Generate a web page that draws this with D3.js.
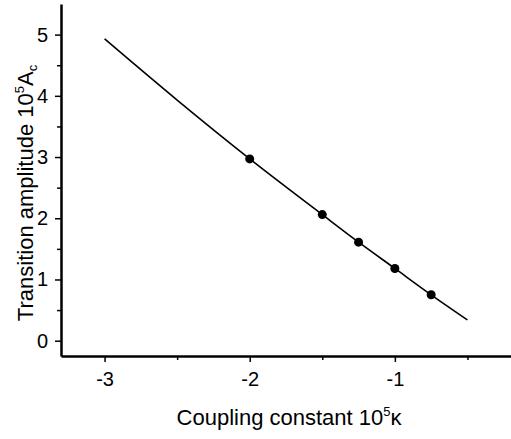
<!DOCTYPE html>
<html>
<head>
<meta charset="utf-8">
<script src="https://cdn.jsdelivr.net/npm/d3@7"></script>
<style>
  body { margin: 0; background: #fff; }
  text { font-family: "Liberation Sans", Arial, sans-serif; fill: #000; }
</style>
</head>
<body>
<svg id="chart" width="511" height="439"></svg>
<script>
// measured points
const kappa = [-2, -1.5, -1.25, -1, -0.75];
const amplitude = [2.97, 2.06, 1.61, 1.18, 0.75];

// fitted curve
const fitKappa = [-3, -2.5, -2, -1.5, -1.25, -1, -0.75, -0.5];
const fitAmplitude = [4.93, 3.93, 2.97, 2.06, 1.61, 1.18, 0.75, 0.34];

const xTicks = [-3, -2, -1];
const xMinor = [-2.5, -1.5, -0.5];
const yTicks = [0, 1, 2, 3, 4, 5];
const yMinor = [0.5, 1.5, 2.5, 3.5, 4.5];

const svg = d3.select("#chart");
const margin = { left: 61, right: 0, top: 4, bottom: 83 };
const width = 511 - margin.left - margin.right;
const height = 439 - margin.top - margin.bottom;

const x = d3.scaleLinear().domain([-3.3, -0.2]).range([0, width]);
const y = d3.scaleLinear().domain([-0.25, 5.5]).range([height, 0]);

const g = svg.append("g").attr("transform", `translate(${margin.left},${margin.top})`);

// minor ticks
g.append("g")
  .attr("transform", `translate(0,${height})`)
  .call(d3.axisBottom(x).tickValues(xMinor).tickSize(4).tickFormat(""))
  .call(a => a.select(".domain").remove())
  .selectAll("line").attr("stroke-width", 1.5);

g.append("g")
  .call(d3.axisLeft(y).tickValues(yMinor).tickSize(4).tickFormat(""))
  .call(a => a.select(".domain").remove())
  .selectAll("line").attr("stroke-width", 1.5);

// major axes
const xAxis = g.append("g")
  .attr("transform", `translate(0,${height})`)
  .call(d3.axisBottom(x).tickValues(xTicks).tickSize(6).tickSizeOuter(0).tickPadding(10)
    .tickFormat(d => String(d)));
xAxis.select(".domain").attr("stroke-width", 2.5);
xAxis.selectAll("line").attr("stroke-width", 1.5);
xAxis.selectAll("text").style("font-size", "20px");

const yAxis = g.append("g")
  .call(d3.axisLeft(y).tickValues(yTicks).tickSize(6).tickSizeOuter(0).tickPadding(7)
    .tickFormat(d => String(d)));
yAxis.select(".domain").attr("stroke-width", 2.5);
yAxis.selectAll("line").attr("stroke-width", 1.5);
yAxis.selectAll("text").style("font-size", "20px");

// fitted curve
const line = d3.line()
  .x((d, i) => x(fitKappa[i]))
  .y(d => y(d))
  .curve(d3.curveMonotoneX);

g.append("path")
  .datum(fitAmplitude)
  .attr("fill", "none")
  .attr("stroke", "#000")
  .attr("stroke-width", 1.6)
  .attr("d", line);

// data points
g.selectAll("circle.pt")
  .data(amplitude)
  .enter()
  .append("circle")
  .attr("class", "pt")
  .attr("cx", (d, i) => x(kappa[i]))
  .attr("cy", d => y(d))
  .attr("r", 4.5)
  .attr("fill", "#000");

// axis titles
const xt = svg.append("text")
  .attr("x", 289)
  .attr("y", 425)
  .attr("text-anchor", "middle")
  .style("font-size", "22px");
xt.append("tspan").text("Coupling constant 10");
xt.append("tspan").attr("dy", -9).style("font-size", "13px").text("5");
xt.append("tspan").attr("dy", 9).text("κ");

const yt = svg.append("text")
  .attr("transform", "translate(33,193) rotate(-90)")
  .attr("text-anchor", "middle")
  .style("font-size", "22px");
yt.append("tspan").text("Transition amplitude 10");
yt.append("tspan").attr("dy", -9).style("font-size", "13px").text("5");
yt.append("tspan").attr("dy", 9).text("A");
yt.append("tspan").attr("dy", 4).style("font-size", "13px").text("c");
</script>
</body>
</html>
